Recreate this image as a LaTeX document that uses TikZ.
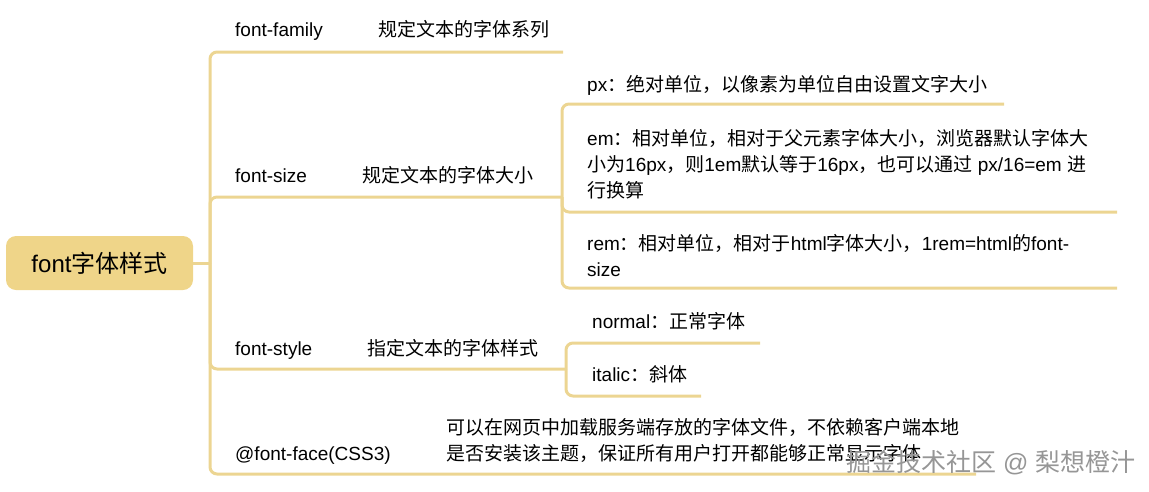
\documentclass[tikz,border=0pt]{standalone}
\usepackage{fontspec}
\setmainfont{Liberation Sans}
\newfontfamily\zhfont{Noto Sans CJK SC}
\usetikzlibrary{positioning}
\definecolor{mapgold}{RGB}{236,213,146}
\definecolor{rootgold}{RGB}{239,213,137}
\definecolor{marktext}{RGB}{150,150,150}
% CJK characters switch to the CJK font on their own
\XeTeXinterchartokenstate=1
\newXeTeXintercharclass\zhclass
\newcount\zhcnt
\newcommand\zhrange[2]{%
  \zhcnt=#1\relax
  \loop
    \XeTeXcharclass\zhcnt=\zhclass
  \ifnum\zhcnt<#2\relax \advance\zhcnt by 1 \repeat}
\zhrange{"3000}{"303F}
\zhrange{"4E00}{"9FFF}
\zhrange{"FF00}{"FFEF}
\XeTeXinterchartoks 0 \zhclass = {\zhfont}
\XeTeXinterchartoks 4095 \zhclass = {\zhfont}
\XeTeXinterchartoks \zhclass 0 = {\normalfont}
\XeTeXinterchartoks \zhclass 4095 = {\normalfont}

\begin{document}
\begin{tikzpicture}[
  x=1pt, y=-1pt,
  root/.style={fill=rootgold, rounded corners=10pt, minimum width=187pt,
               minimum height=54pt, inner sep=0pt, font=\fontsize{24}{28}\selectfont},
  topic/.style={anchor=base west, inner sep=0pt, font=\fontsize{19}{26}\selectfont},
  note/.style={topic, align=left},
  branch/.style={draw=mapgold, line width=3pt, rounded corners=7pt},
]
  \useasboundingbox (0,0) rectangle (1149,491);

  % root node
  \node[root] (root) at (99.5,263) {font字体样式};
  \coordinate (j0) at (210,263);

  % font-family
  \node[topic] (family) at (235,36) {font-family};
  \node[topic, base right=55pt of family] (family-note) {规定文本的字体系列};
  \coordinate (family-end) at (563,52);

  % font-size
  \node[topic] (size) at (235,182) {font-size};
  \node[topic, base right=55pt of size] (size-note) {规定文本的字体大小};
  \coordinate (j1) at (562,197);
  \node[topic] (px) at (587,91) {px：绝对单位，以像素为单位自由设置文字大小};
  \coordinate (px-end) at (1004,104);
  % multi-line notes sit on their last line
  \node[note] (em) at (587,197)
    {em：相对单位，相对于父元素字体大小，浏览器默认字体大\\
     小为16px，则1em默认等于16px，也可以通过 px/16=em 进\\
     行换算};
  \coordinate (em-end) at (1117,212);
  \node[note] (rem) at (587,276)
    {rem：相对单位，相对于html字体大小，1rem=html的font-\\size};
  \coordinate (rem-end) at (1117,288);

  % font-style
  \node[topic] (style) at (235,355) {font-style};
  \node[topic, base right=55pt of style] (style-note) {指定文本的字体样式};
  \coordinate (j2) at (566,369);
  \node[topic] (normal) at (592,328) {normal：正常字体};
  \coordinate (normal-end) at (760,343);
  \node[topic] (italic) at (592,381) {italic：斜体};
  \coordinate (italic-end) at (701,396);

  % @font-face
  \node[topic] (face) at (235,460) {@font-face(CSS3)};
  \node[note, base right=55pt of face] (face-note)
    {可以在网页中加载服务端存放的字体文件，不依赖客户端本地\\
     是否安装该主题，保证所有用户打开都能够正常显示字体};
  \coordinate (face-end) at (976,474);

  % Branches
  \draw[branch] (root.east) -- (j0);
  \foreach \e in {family-end, j1, j2, face-end}
    \draw[branch] (j0) |- (\e);
  \foreach \e in {px-end, em-end, rem-end}
    \draw[branch] (j1) |- (\e);
  \foreach \e in {normal-end, italic-end}
    \draw[branch] (j2) |- (\e);

  % watermark
  \node[topic, text=marktext, font=\fontsize{25}{28}\selectfont] (mark) at (846,471)
    {掘金技术社区 @ 梨想橙汁};
\end{tikzpicture}
\end{document}
